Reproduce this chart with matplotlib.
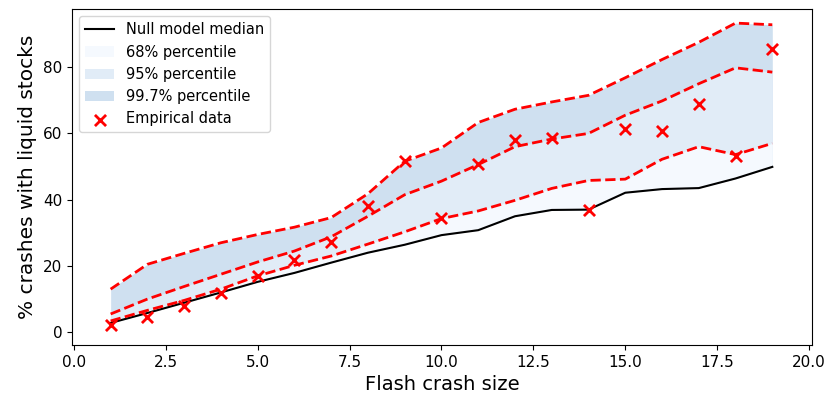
import numpy as np
import matplotlib
matplotlib.use("Agg")
import matplotlib.pyplot as plt

# Flash crash size (number of stocks crashing together)
crash_size = [1, 2, 3, 4, 5, 6, 7, 8, 9, 10, 11, 12, 13, 14, 15, 16, 17, 18, 19]

# Null model: median and upper percentile envelopes (% of crashes with liquid stocks)
null_median = [2.8, 5.8, 8.9, 12.0, 15.2, 17.9, 21.0, 24.0, 26.4, 29.3,
               30.8, 35.0, 36.9, 37.0, 42.1, 43.2, 43.5, 46.4, 49.9]
upper_68 = [3.4, 6.6, 9.6, 13.0, 17.0, 20.2, 23.0, 26.6, 30.3, 34.3,
            36.6, 39.8, 43.4, 45.8, 46.2, 52.2, 56.0, 53.6, 57.0]
upper_95 = [5.5, 10.0, 13.8, 17.5, 21.2, 24.5, 28.8, 35.0, 41.5, 45.6,
            50.6, 56.0, 58.3, 60.0, 65.5, 69.8, 75.0, 79.8, 78.5]
upper_997 = [13.0, 20.5, 23.8, 27.0, 29.5, 31.7, 34.6, 41.8, 51.6, 55.6,
             63.3, 67.3, 69.5, 71.5, 76.8, 82.3, 87.5, 93.3, 92.8]

# Observed fraction of flash crashes involving liquid stocks
empirical = [2.3, 4.7, 8.0, 11.7, 16.9, 21.9, 27.3, 38.0, 51.7, 34.4,
             50.8, 58.0, 58.6, 37.0, 61.4, 60.8, 68.8, 53.1, 85.6]

x = np.array(crash_size)

fig = plt.figure(figsize=(8.29, 3.99), dpi=100)
ax = fig.add_axes([0.0869, 0.135, 0.8926, 0.842])

line_med, = ax.plot(x, null_median, color="black", lw=1.5, zorder=4,
                    label="Null model median")
f997 = ax.fill_between(x, null_median, upper_997, color="#cfe0f0", lw=0,
                       zorder=1, label="99.7% percentile")
f95 = ax.fill_between(x, null_median, upper_95, color="#e1ecf7", lw=0,
                      zorder=2, label="95% percentile")
f68 = ax.fill_between(x, null_median, upper_68, color="#f5f9fe", lw=0,
                      zorder=3, label="68% percentile")
for upper in (upper_68, upper_95, upper_997):
    ax.plot(x, upper, color="red", ls="--", lw=2, zorder=5)
sc = ax.scatter(x, empirical, marker="x", color="red", s=64, linewidths=2,
                zorder=6, label="Empirical data")

ax.set_xlim(-0.05, 20.08)
ax.set_ylim(-3.9, 97.5)
ax.set_xticks([0.0, 2.5, 5.0, 7.5, 10.0, 12.5, 15.0, 17.5, 20.0])
ax.set_yticks([0, 20, 40, 60, 80])
ax.tick_params(labelsize=11)
ax.set_xlabel("Flash crash size", fontsize=14)
ax.set_ylabel("% crashes with liquid stocks", fontsize=14.5)

ax.legend(handles=[line_med, f68, f95, f997, sc], loc="upper left", fontsize=10.5)

fig.savefig("out.png", dpi=100)
